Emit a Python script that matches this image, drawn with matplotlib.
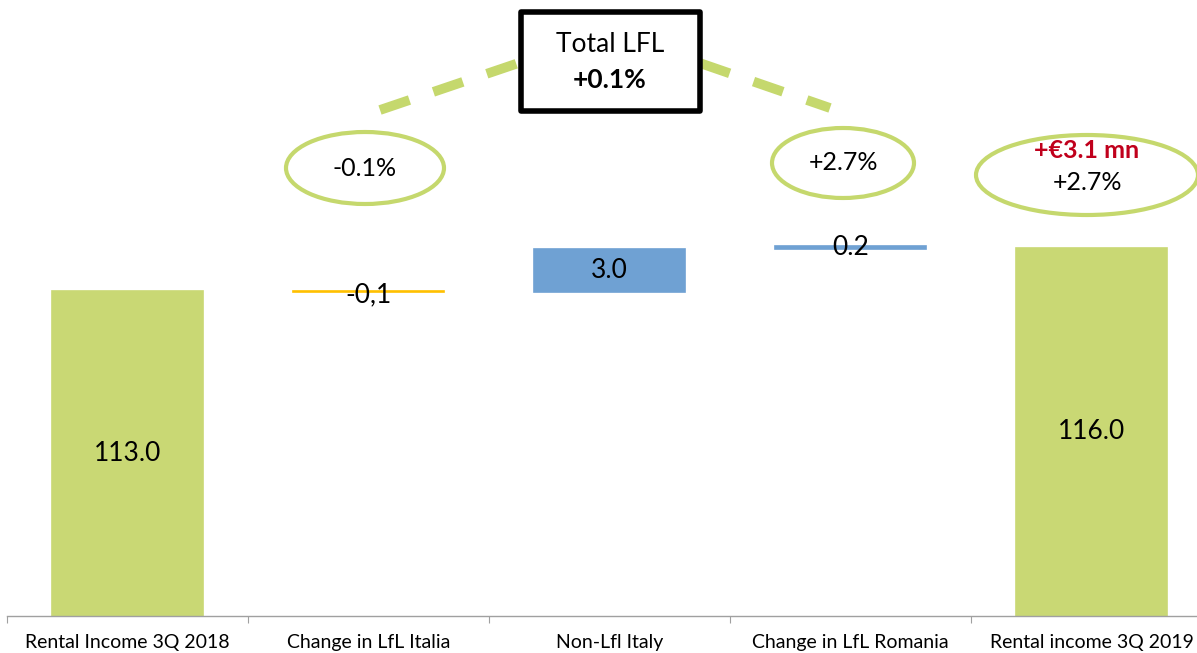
import matplotlib.pyplot as plt
from matplotlib.patches import Ellipse, Rectangle
import matplotlib.transforms as mtransforms

plt.rcParams['font.family'] = ['Lato', 'DejaVu Sans']

# data
categories = ['Rental Income 3Q 2018', 'Change in LfL Italia', 'Non-Lfl Italy',
              'Change in LfL Romania', 'Rental income 3Q 2019']
start_value = 113.0
changes = [-0.1, 3.0, 0.2]
end_value = 116.0
value_labels = ['113.0', '-0,1', '3.0', '0.2', '116.0']
bubble_texts = ['-0.1%', '+2.7%']
total_lfl = '+0.1%'
total_change = '+€3.1 mn'
total_pct = '+2.7%'

green = '#C9D874'
blue = '#6FA1D3'
gold = '#FFC000'
ring = '#C5D86D'

# waterfall geometry from data
bottoms = [0]
heights = [start_value]
level = start_value
for ch in changes:
    bottoms.append(level if ch >= 0 else level + ch)
    heights.append(abs(ch))
    level += ch
bottoms.append(0)
heights.append(end_value)
colors = [green, gold, blue, blue, green]

fig = plt.figure(figsize=(11.97, 6.53), dpi=100)
ax = fig.add_axes([7 / 1197, 37 / 653, 1205 / 1197, 616 / 653])
ax.set_xlim(-0.5, 4.5)
ax.set_ylim(90.3, 133.3)

x = list(range(len(categories)))
ax.bar(x, heights, bottom=bottoms, width=0.63, color=colors,
       edgecolor=colors, linewidth=1.2, zorder=2)

for i in x:
    mid = bottoms[i] + heights[i] / 2
    if i == 0 or i == 4:
        mid = ax.get_ylim()[0] + (bottoms[i] + heights[i] - ax.get_ylim()[0]) / 2
    dy = -0.25 if i == 1 else 0
    ax.text(i, mid + dy, value_labels[i], ha='center', va='center',
            fontsize=19, color='black', zorder=3)

# axis styling
for s in ['top', 'right', 'left']:
    ax.spines[s].set_visible(False)
ax.spines['bottom'].set_color('#A0A0A0')
ax.spines['bottom'].set_linewidth(1.0)
ax.set_yticks([])
ax.set_xticks([i - 0.5 for i in range(len(categories) + 1)])
ax.set_xticklabels([])
ax.tick_params(axis='x', which='major', length=5, color='#A0A0A0')
ax.set_xticks(x, minor=True)
ax.set_xticklabels(categories, minor=True, fontsize=14)
ax.tick_params(axis='x', which='minor', length=0, pad=13)

# decorations in axes-fraction y
trans = mtransforms.blended_transform_factory(ax.transData, ax.transAxes)


def fy(py):
    return (616 - py) / 616


def fx(px):
    return (px - 7) / 241 - 0.5


ax.plot([fx(380), fx(610), fx(830)], [fy(110), fy(32), fy(108)],
        transform=trans, color=ring, linewidth=7, dashes=(3.2, 2.6),
        solid_capstyle='butt', zorder=1, clip_on=False)

box = Rectangle((fx(521), fy(111)), fx(700) - fx(521), fy(12) - fy(111),
                transform=trans, facecolor='white', edgecolor='black',
                linewidth=4, zorder=4, clip_on=False, joinstyle='round')
ax.add_patch(box)
ax.text(fx(610), fy(44), 'Total LFL', transform=trans, ha='center',
        va='center', fontsize=19, zorder=5)
ax.text(fx(610), fy(80), total_lfl, transform=trans, ha='center',
        va='center', fontsize=19, fontweight='bold', zorder=5)

ellipses = [(365, 168, 158, 72), (843, 163, 142, 70), (1087, 175, 222, 80)]
for cx, cy, w, h in ellipses:
    e = Ellipse((cx, 653 - cy), w, h, transform=None, facecolor='none',
                edgecolor=ring, linewidth=3, zorder=4, clip_on=False)
    fig.add_artist(e)

ax.text(fx(365), fy(168), bubble_texts[0], transform=trans, ha='center',
        va='center', fontsize=18, zorder=5)
ax.text(fx(843), fy(163), bubble_texts[1], transform=trans, ha='center',
        va='center', fontsize=18, zorder=5)
ax.text(fx(1087), fy(150), total_change, transform=trans, ha='center',
        va='center', fontsize=18, fontweight='bold', color='#C0001C', zorder=5)
ax.text(fx(1087), fy(182), total_pct, transform=trans, ha='center',
        va='center', fontsize=18, zorder=5)

fig.savefig('out.png', dpi=100)
